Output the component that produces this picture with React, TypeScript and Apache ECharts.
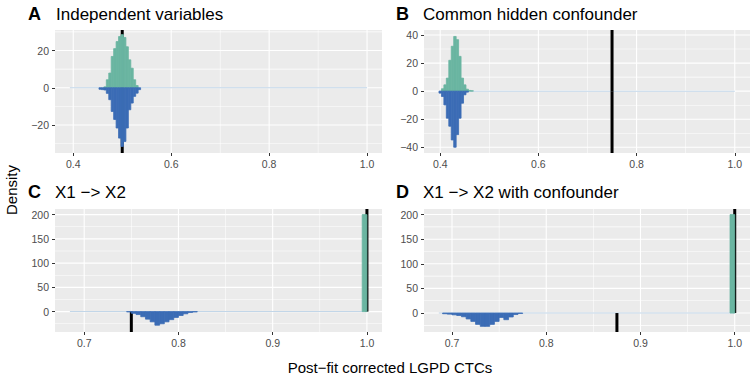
import React, { useEffect, useRef } from "react";
import * as echarts from "echarts";

// ---------- data ----------
const BIN_WIDTH = 0.005;

const panelTags = ["A", "B", "C", "D"];
const panelTitles = [
  "Independent variables",
  "Common hidden confounder",
  "X1 \u2212> X2",
  "X1 \u2212> X2 with confounder",
];
const xAxisTitle = "Post\u2212fit corrected LGPD CTCs";
const yAxisTitle = "Density";

// Panel A
const aGreenStart = 0.4625;
const aGreen = [0.5, 4.3, 7.9, 16.8, 21, 24.8, 27.5, 28.5, 27, 22, 15, 10.5, 4.3, 1.2];
const aBlueStart = 0.4525;
const aBlue = [-0.8, -1, -1.2, -3, -6.4, -12.7, -17, -21.6, -27, -31.5, -28.8, -21.6, -11.8, -8.2, -4.6, -2.9, -1];
const aTruthGreen = 0.5;
const aTruthBlue = 0.5;
const aDataRange = [0.3931, 1.0];

// Panel B
const bGreenStart = 0.4025;
const bGreen = [1.7, 4.5, 9.3, 22, 32, 39, 36.7, 24.8, 9.3, 4.5, 1.4, 0.5, 0.3];
const bBlueStart = 0.3975;
const bBlue = [-1.4, -3.8, -9.8, -19.3, -25, -34.8, -40, -31, -19.3, -8.6, -2.6, -0.7];
const bTruthGreen = 0.75;
const bTruthBlue = 0.75;
const bDataRange = [0.3972, 1.0];

// Panel C
const cGreenStart = 0.995;
const cGreen = [200];
const cBlueStart = 0.745;
const cBlue = [-0.5, -3.5, -6, -10.5, -15.5, -21, -28, -25, -21, -16.5, -12, -8, -4.5, -1.8, -0.6];
const cTruthGreen = 1.0;
const cTruthBlue = 0.75;
const cDataRange = [0.6848, 1.0];

// Panel D
const dGreenStart = 0.995;
const dGreen = [200];
const dBlueStart = 0.69;
const dBlue = [-1.4, -2.2, -3.6, -5, -7.5, -12, -17, -23, -27, -27, -23, -17, -9, -13.5, -8, -3, -0.8];
const dTruthGreen = 1.0;
const dTruthBlue = 0.875;
const dDataRange = [0.686, 1.0];

// Ticks
const xTicksTop = [0.4, 0.6, 0.8, 1.0];
const xMinorTop = [0.5, 0.7, 0.9];
const xTicksBottom = [0.7, 0.8, 0.9, 1.0];
const xMinorBottom = [0.75, 0.85, 0.95];
const yTicksA = [-20, 0, 20];
const yMinorA = [-30, -10, 10, 30];
const yTicksB = [-40, -20, 0, 20, 40];
const yMinorB = [-30, -10, 10, 30];
const yTicksCD = [0, 50, 100, 150, 200];
const yMinorCD = [-25, 25, 75, 125, 175];

// ---------- layout / style ----------
const GREEN = "#6ab5a1";
const BLUE = "#3b6cb5";
const BASELINE = "#c2d6e8";
const PANEL_BG = "#EBEBEB";
const FONT = "Liberation Sans, Arial, Helvetica, sans-serif";

const panels = [
  {
    grid: { left: 55, top: 30, width: 327, height: 123 },
    xRange: [0.3627, 1.0305], yRange: [-35, 31],
    green: { start: aGreenStart, vals: aGreen }, blue: { start: aBlueStart, vals: aBlue },
    truthG: aTruthGreen, truthB: aTruthBlue, dataRange: aDataRange,
    xt: xTicksTop, xm: xMinorTop, yt: yTicksA, ym: yMinorA,
    tagPos: [28, 14], titlePos: [56, 14],
  },
  {
    grid: { left: 424, top: 30, width: 326, height: 123 },
    xRange: [0.367, 1.031], yRange: [-44.1, 43.6],
    green: { start: bGreenStart, vals: bGreen }, blue: { start: bBlueStart, vals: bBlue },
    truthG: bTruthGreen, truthB: bTruthBlue, dataRange: bDataRange,
    xt: xTicksTop, xm: xMinorTop, yt: yTicksB, ym: yMinorB,
    tagPos: [396, 14], titlePos: [423, 14],
  },
  {
    grid: { left: 55, top: 209, width: 327, height: 123 },
    xRange: [0.669, 1.016], yRange: [-42, 211.5],
    green: { start: cGreenStart, vals: cGreen }, blue: { start: cBlueStart, vals: cBlue },
    truthG: cTruthGreen, truthB: cTruthBlue, dataRange: cDataRange,
    xt: xTicksBottom, xm: xMinorBottom, yt: yTicksCD, ym: yMinorCD,
    tagPos: [28, 192], titlePos: [55, 192],
  },
  {
    grid: { left: 424, top: 209, width: 326, height: 123 },
    xRange: [0.6703, 1.0162], yRange: [-38.5, 211.3],
    green: { start: dGreenStart, vals: dGreen }, blue: { start: dBlueStart, vals: dBlue },
    truthG: dTruthGreen, truthB: dTruthBlue, dataRange: dDataRange,
    xt: xTicksBottom, xm: xMinorBottom, yt: yTicksCD, ym: yMinorCD,
    tagPos: [396, 192], titlePos: [423, 192],
  },
];

const fmtY = (v: number) => (v < 0 ? "\u2212" + Math.abs(v) : String(v));
const fmtX = (v: number) => v.toFixed(1);

function binsToData(start: number, vals: number[]) {
  return vals.map((v, i) => [start + i * BIN_WIDTH, start + (i + 1) * BIN_WIDTH, v]);
}

function buildOption() {
  const grids: any[] = [];
  const xAxes: any[] = [];
  const yAxes: any[] = [];
  const series: any[] = [];
  const graphic: any[] = [];

  panels.forEach((p, i) => {
    grids.push({
      ...p.grid,
      show: true,
      backgroundColor: PANEL_BG,
      borderWidth: 0,
      containLabel: false,
      outerBoundsMode: "none",
    });
    const labelStyle = { color: "#4D4D4D", fontSize: 10.5, fontFamily: FONT };
    xAxes.push({
      gridIndex: i,
      type: "value",
      position: "bottom",
      min: p.xRange[0],
      max: p.xRange[1],
      axisLine: { show: false, onZero: false },
      splitLine: { show: false },
      axisTick: { show: true, length: 3, lineStyle: { color: "#333333", width: 1 }, customValues: p.xt },
      axisLabel: { ...labelStyle, margin: 5, customValues: p.xt, formatter: fmtX },
    });
    yAxes.push({
      gridIndex: i,
      type: "value",
      position: "left",
      min: p.yRange[0],
      max: p.yRange[1],
      axisLine: { show: false, onZero: false },
      splitLine: { show: false },
      axisTick: { show: true, length: 3, lineStyle: { color: "#333333", width: 1 }, customValues: p.yt },
      axisLabel: { ...labelStyle, margin: 6, customValues: p.yt, formatter: fmtY },
    });

    // grid lines: [direction, value, major]
    const gl: number[][] = [];
    p.xm.forEach((v) => gl.push([0, v, 0]));
    p.ym.forEach((v) => gl.push([1, v, 0]));
    p.xt.forEach((v) => gl.push([0, v, 1]));
    p.yt.forEach((v) => gl.push([1, v, 1]));
    series.push({
      type: "custom",
      xAxisIndex: i,
      yAxisIndex: i,
      silent: true,
      z: 1,
      clip: false,
      data: gl,
      encode: { x: 1, y: 1 },
      renderItem: (params: any, api: any) => {
        const cs = params.coordSys;
        const dir = api.value(0);
        const v = api.value(1);
        const major = api.value(2);
        const w = major ? 1.1 : 0.55;
        if (dir === 0) {
          const px = api.coord([v, 0])[0];
          return { type: "rect", shape: { x: px - w / 2, y: cs.y, width: w, height: cs.height }, style: { fill: "#FFFFFF" } };
        }
        const py = api.coord([0.9, v])[1];
        return { type: "rect", shape: { x: cs.x, y: py - w / 2, width: cs.width, height: w }, style: { fill: "#FFFFFF" } };
      },
    });

    // baseline of zero-height bins
    series.push({
      type: "custom",
      xAxisIndex: i,
      yAxisIndex: i,
      silent: true,
      z: 2,
      data: [[p.dataRange[0], p.dataRange[1]]],
      encode: { x: [0, 1] },
      renderItem: (params: any, api: any) => {
        const a = api.coord([api.value(0), 0]);
        const b = api.coord([api.value(1), 0]);
        return { type: "rect", shape: { x: a[0], y: a[1] - 0.5, width: b[0] - a[0], height: 1 }, style: { fill: BASELINE } };
      },
    });

    // truth lines: [x, side]
    series.push({
      type: "custom",
      xAxisIndex: i,
      yAxisIndex: i,
      silent: true,
      z: 3,
      data: [[p.truthG, 1], [p.truthB, -1]],
      encode: { x: 0 },
      renderItem: (params: any, api: any) => {
        const cs = params.coordSys;
        const pt = api.coord([api.value(0), 0]);
        const side = api.value(1);
        const y1 = side > 0 ? cs.y : pt[1];
        const y2 = side > 0 ? pt[1] : cs.y + cs.height;
        return { type: "rect", shape: { x: pt[0] - 1.5, y: y1, width: 3, height: y2 - y1 }, style: { fill: "#000000" } };
      },
    });

    const barSeries = (start: number, vals: number[], color: string) => ({
      type: "custom",
      xAxisIndex: i,
      yAxisIndex: i,
      silent: true,
      z: 4,
      data: binsToData(start, vals),
      encode: { x: [0, 1], y: 2 },
      renderItem: (params: any, api: any) => {
        const p0 = api.coord([api.value(0), 0]);
        const p1 = api.coord([api.value(1), api.value(2)]);
        return {
          type: "rect",
          shape: { x: p0[0], y: Math.min(p0[1], p1[1]), width: p1[0] - p0[0], height: Math.abs(p1[1] - p0[1]) },
          style: { fill: color, stroke: color, lineWidth: 0.8 },
        };
      },
    });
    series.push(barSeries(p.green.start, p.green.vals, GREEN));
    series.push(barSeries(p.blue.start, p.blue.vals, BLUE));

    graphic.push({
      type: "text",
      x: p.tagPos[0],
      y: p.tagPos[1],
      style: { text: panelTags[i], fontSize: 18, fontWeight: "bold", fontFamily: FONT, fill: "#000000", verticalAlign: "middle" },
    });
    graphic.push({
      type: "text",
      x: p.titlePos[0],
      y: p.titlePos[1],
      style: { text: panelTitles[i], fontSize: 17, fontFamily: FONT, fill: "#000000", verticalAlign: "middle" },
    });
  });

  graphic.push({
    type: "text",
    x: 11,
    y: 190,
    rotation: Math.PI / 2,
    style: { text: yAxisTitle, fontSize: 15, fontFamily: FONT, fill: "#000000", align: "center", verticalAlign: "middle" },
  });
  graphic.push({
    type: "text",
    x: 390,
    y: 367,
    style: { text: xAxisTitle, fontSize: 15, fontFamily: FONT, fill: "#000000", align: "center", verticalAlign: "middle" },
  });

  return {
    animation: false,
    backgroundColor: "#FFFFFF",
    grid: grids,
    xAxis: xAxes,
    yAxis: yAxes,
    series,
    graphic,
  };
}

export default function App() {
  const ref = useRef<HTMLDivElement>(null);
  useEffect(() => {
    if (!ref.current) return;
    const chart = echarts.init(ref.current, undefined, { renderer: "svg" });
    chart.setOption(buildOption() as any);
    return () => chart.dispose();
  }, []);
  return (
    <div
      ref={ref}
      style={{ position: "fixed", left: 0, top: 0, width: 756, height: 378, background: "#FFFFFF" }}
    />
  );
}
